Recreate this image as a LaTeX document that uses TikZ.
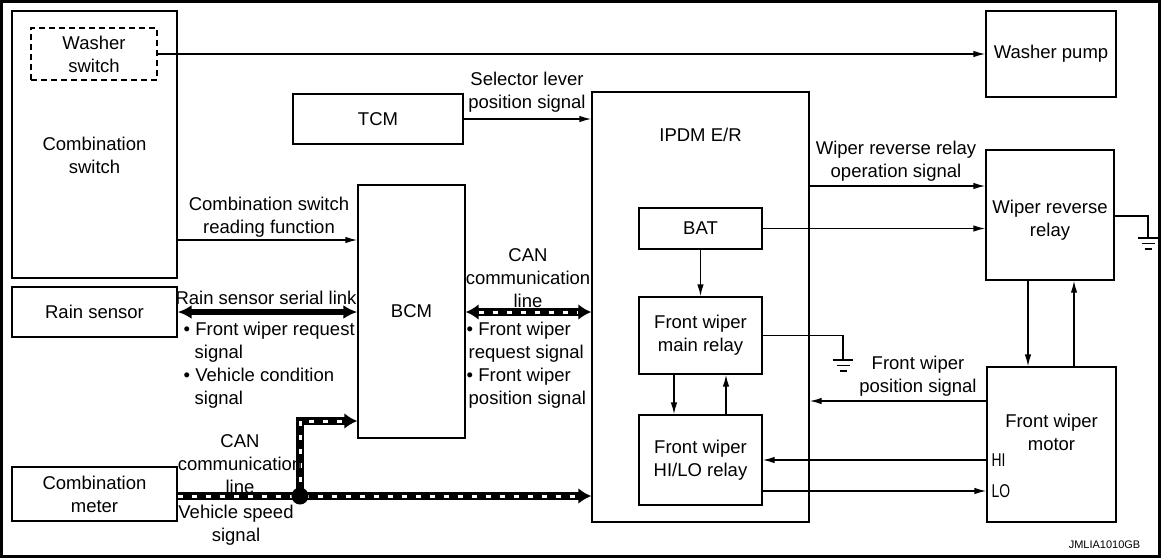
\documentclass[tikz,border=0pt]{standalone}
\usepackage{fontspec}
\setmainfont{Liberation Sans}
\usetikzlibrary{arrows.meta, positioning, calc}

\begin{document}
\begin{tikzpicture}[x=1pt, y=-1pt, >={Latex[length=12pt,width=6.5pt]}, line width=1.4pt,
  font=\fontsize{18.5}{23}\selectfont,
  box/.style={draw, rectangle, inner sep=0pt, align=center},
  lbl/.style={inner sep=0pt, align=center},
  serial/.style={line width=5.5pt, {Latex[length=14pt,width=14pt]}-{Latex[length=14pt,width=14pt]}},
  can/.style={line width=7.5pt, line join=miter,
    postaction={draw=white, line width=3pt, dash pattern=on 5pt off 9pt, -, #1}},
  can/.default={},
  cantip/.style={-{Latex[length=13pt,width=16pt]}},
  gnd/.pic={\draw (-10,0) -- (10,0) (-6.5,5.5) -- (6.5,5.5) (-3.5,11) -- (3.5,11);}]

\useasboundingbox (0,0) rectangle (1161,558);
\draw[line width=3pt] (1.5,1.5) rectangle (1159.5,556.5);

% boxes
\node[box, minimum width=165pt, minimum height=267pt] (combsw) at (94.5,144.5) {};
\node[lbl] (combswtxt) at (94.5,155) {Combination\\switch};
\node[box, dashed, dash pattern=on 6pt off 4pt, minimum width=126pt, minimum height=52pt] (washsw) at (94,54) {Washer\\switch};
\node[box, minimum width=130pt, minimum height=86pt] (pump) at (1051,54) {Washer pump};
\node[box, minimum width=170pt, minimum height=50pt] (tcm) at (378,119) {TCM};
\node[box, minimum width=107pt, minimum height=253pt] (bcm) at (411.5,311.5) {BCM};
\node[box, minimum width=217pt, minimum height=430pt] (ipdm) at (700.5,307) {};
\node[lbl] (ipdmtxt) at (700.5,135) {IPDM E/R};
\node[box, minimum width=123pt, minimum height=41pt] (bat) at (700.5,228.5) {BAT};
\node[box, minimum width=123pt, minimum height=77pt] (mainrly) at (700.5,335.5) {Front wiper\\main relay};
\node[box, minimum width=123pt, minimum height=90pt] (hilo) at (700.5,460) {Front wiper\\HI/LO relay};
\node[box, minimum width=128pt, minimum height=130pt] (revrly) at (1050,215) {};
\node[lbl] (revrlytxt) at (1050,220) {Wiper reverse\\relay};
\node[box, minimum width=129pt, minimum height=155pt] (motor) at (1051.5,444.5) {};
\node[lbl] (motortxt) at (1051.5,432) {Front wiper\\motor};
\node[box, minimum width=165pt, minimum height=50pt] (rain) at (94.5,312) {Rain sensor};
\node[box, minimum width=165pt, minimum height=54pt] (meter) at (94.5,494) {Combination\\meter};

% signal lines
\draw[->] (washsw.east) -- (pump.west);
\draw[->] (tcm.east) -- (tcm.east -| ipdm.west);
\draw[->] (combsw.east |- 0,240) -- (bcm.west |- 0,240);
\draw[serial] (rain.east) -- (rain.east -| bcm.west);
\draw[can={shorten <=13pt, shorten >=13pt}, {Latex[length=13pt,width=16pt]}-{Latex[length=13pt,width=16pt]}] (bcm.east |- 0,312) -- (ipdm.west |- 0,312);

\coordinate (jn) at (300,496);
\draw[can={shorten >=13pt}, cantip] (meter.east |- jn) -- (jn) -- (jn -| ipdm.west);
\draw[can={shorten >=13pt}, cantip] (jn) |- (bcm.west |- 0,421);
\node[circle, fill, minimum size=17pt, inner sep=0pt] (jdot) at (jn) {};

\draw[->] (bat.south) -- (mainrly.north);
\draw[->] (674,0 |- mainrly.south) -- (674,0 |- hilo.north);
\draw[->] (726,0 |- hilo.north) -- (726,0 |- mainrly.south);
\coordinate (gnd1) at (843,360);
\draw (mainrly.east) -| (gnd1);
\pic at (gnd1) {gnd};

\draw[->] (ipdm.east |- 0,186) -- (revrly.west |- 0,186);
\draw[->] (bat.east) -- (bat.east -| revrly.west);
\coordinate (gnd2) at (1148,238);
\draw (revrly.east |- 0,216) -| (gnd2);
\pic at (gnd2) {gnd};

\draw[->] (1028,0 |- revrly.south) -- (1028,0 |- motor.north);
\draw[->] (1074,0 |- motor.north) -- (1074,0 |- revrly.south);
\draw[->] (motor.west |- 0,401) -- (ipdm.east |- 0,401);
\draw[->] (motor.west |- hilo.east) -- (hilo.east);
\draw[->] (hilo.east |- 0,491) -- (motor.west |- 0,491);

% labels
\node[lbl] (lblsel) at (527,92) {Selector lever\\position signal};
\node[lbl] (lblcsr) at (269,217) {Combination switch\\reading function};
\node[lbl] (lblcan1) at (528,278) {CAN\\communication\\line};
\node[lbl] (lblrain) at (266,298) {Rain sensor serial link};
\node[lbl, align=left, anchor=north west] (lblrainsig) at (183,321) {\textbullet\ Front wiper request\\\hspace*{11pt}signal\\\textbullet\ Vehicle condition\\\hspace*{11pt}signal};
\node[lbl, align=left, anchor=north west] (lblcansig) at (466,321) {\textbullet\ Front wiper\\\hspace*{2pt}request signal\\\textbullet\ Front wiper\\\hspace*{2pt}position signal};
\node[lbl] (lblcan2) at (240,464) {CAN\\communication\\line};
\node[lbl] (lblspd) at (236,525) {Vehicle speed\\signal};
\node[lbl] (lblwrs) at (896,161) {Wiper reverse relay\\operation signal};
\node[lbl] (lblpos) at (918,376) {Front wiper\\position signal};
\node[lbl, anchor=west] (lblhi) at (991,460) {\scalebox{0.75}[1]{HI}};
\node[lbl, anchor=west] (lbllo) at (991,491) {\scalebox{0.75}[1]{LO}};
\node[lbl, anchor=east, font=\fontsize{11}{13}\selectfont] (code) at (1141,545) {JMLIA1010GB};

\end{tikzpicture}
\end{document}
